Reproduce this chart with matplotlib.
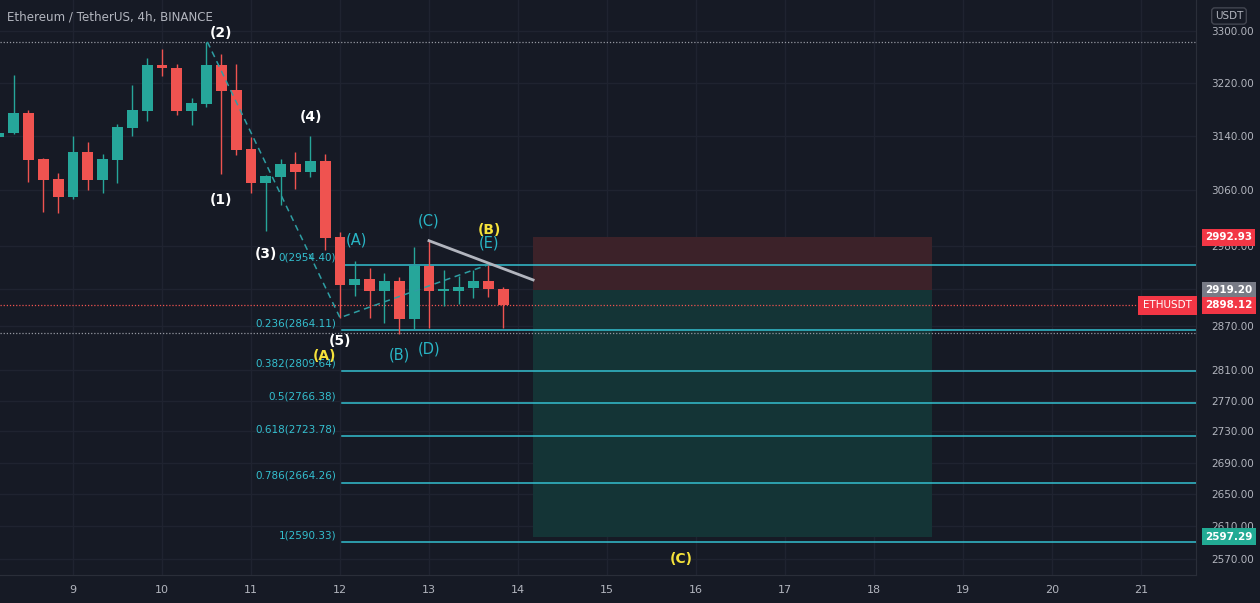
import numpy as np
import matplotlib
matplotlib.use('Agg')
import matplotlib.pyplot as plt
import matplotlib.transforms as mtransforms
from matplotlib.ticker import NullLocator

# ETH/USDT 4h candles, first one at day 8 04:00
opens = [3139, 3144, 3174, 3106, 3077, 3050, 3116, 3075, 3104, 3152,
         3177, 3247, 3243, 3177, 3188, 3247, 3209, 3121, 3071, 3080,
         3099, 3087, 3103, 2993, 2926, 2934, 2918, 2932, 2879, 2952,
         2918, 2918, 2922, 2932, 2920]
highs = [3146, 3232, 3179, 3107, 3085, 3140, 3131, 3113, 3158, 3217,
         3258, 3272, 3249, 3197, 3283, 3264, 3249, 3138, 3082, 3106,
         3116, 3140, 3113, 3000, 2960, 2950, 2943, 2937, 2979, 2988,
         2947, 2938, 2947, 2954, 2923]
lows = [3137, 3143, 3072, 3029, 3027, 3048, 3061, 3056, 3071, 3140,
        3162, 3230, 3171, 3156, 3183, 3084, 3112, 3056, 3002, 3039,
        3062, 3080, 2975, 2881, 2911, 2881, 2874, 2859, 2866, 2867,
        2897, 2900, 2908, 2909, 2867]
closes = [3144, 3174, 3104, 3075, 3050, 3116, 3075, 3106, 3153, 3179,
          3247, 3243, 3177, 3189, 3247, 3208, 3119, 3071, 3081, 3099,
          3087, 3103, 2992, 2926, 2934, 2918, 2932, 2879, 2952, 2918,
          2920, 2923, 2932, 2920, 2898.12]
first_candle = 8 + 4 / 24
candle_days = first_candle + np.arange(len(opens)) * 4 / 24

price_ticks = [3300, 3220, 3140, 3060, 2980, 2920, 2870, 2810, 2770, 2730,
               2690, 2650, 2610, 2570]
day_ticks = list(range(9, 22))

fib_ratios = [0, 0.236, 0.382, 0.5, 0.618, 0.786, 1]
fib_prices = [2954.40, 2864.11, 2809.64, 2766.38, 2723.78, 2664.26, 2590.33]
fib_start = 12.02

# elliott wave drawings
wave_line_days = [10.51, 12.0, 13.66]
wave_line_prices = [3283, 2881, 2954]
trend_days = [13.0, 14.17]
trend_prices = [2988, 2933]

white_labels = ['(1)', '(2)', '(3)', '(4)', '(5)']
white_days = [10.663, 10.663, 11.169, 11.674, 12.0]
white_prices = [3046, 3297, 2969, 3168, 2850]
teal_labels = ['(A)', '(B)', '(C)', '(D)', '(E)']
teal_days = [12.18, 12.663, 13.0, 13.0, 13.674]
teal_prices = [2989, 2831, 3016, 2838, 2985]
yellow_labels = ['(A)', '(B)', '(C)']
yellow_days = [11.831, 13.674, 15.831]
yellow_prices = [2829, 3003, 2570]

# short position
pos_start, pos_end = 14.17, 18.65
entry_price = 2919.20
stop_price = 2992.93
target_price = 2597.29
last_price = 2898.12
high_line = 3283
low_line = 2860

BG = '#161a25'
UP = '#26a69a'
DOWN = '#ef5350'
GRID = '#1f2330'
TXT = '#b2b5be'
FIB = '#34bfcf'

fig = plt.figure(figsize=(12.6, 6.03), dpi=100, facecolor=BG)
ax = fig.add_axes([0, 28 / 603, 1196 / 1260, 575 / 603])
ax.set_facecolor(BG)
ax.set_yscale('log')
ax.set_xlim(8.18, 21.618)
ax.set_ylim(2550.5, 3348.8)

ax.yaxis.set_minor_locator(NullLocator())
ax.set_yticks(price_ticks)
ax.set_yticklabels([f'{p:.2f}' for p in price_ticks])
ax.yaxis.tick_right()
ax.set_xticks(day_ticks)
ax.set_xticklabels([str(d) for d in day_ticks])
ax.tick_params(axis='y', length=0, pad=11, labelsize=7.5, labelcolor=TXT)
ax.tick_params(axis='x', length=0, pad=7, labelsize=8, labelcolor=TXT)
ax.grid(True, color=GRID, linewidth=1)
ax.set_axisbelow(True)
for s in ['top', 'left']:
    ax.spines[s].set_visible(False)
for s in ['right', 'bottom']:
    ax.spines[s].set_color('#2a2e39')

# position boxes
ax.fill_between([pos_start, pos_end], entry_price, stop_price, color='#3c2229', lw=0, zorder=1)
ax.fill_between([pos_start, pos_end], target_price, entry_price, color='#143436', lw=0, zorder=1)

# horizontal dotted lines
ax.axhline(high_line, color='#9598a1', ls=(0, (1, 1.5)), lw=0.9, zorder=2)
ax.axhline(last_price, color='#ef5350', ls=(0, (1, 1.5)), lw=0.9, zorder=2)
ax.axhline(low_line, color='#9598a1', ls=(0, (1, 1.5)), lw=0.9, zorder=2)

# fib levels
for r, p in zip(fib_ratios, fib_prices):
    ax.plot([fib_start, 21.618], [p, p], color=FIB, lw=1.1, zorder=3)
    ax.annotate(f'{r:g}({p:.2f})', xy=(fib_start, p), xytext=(-4, 1.5),
                textcoords='offset points', ha='right', va='bottom',
                color=FIB, fontsize=7.5, zorder=6)

# candles
colors = [UP if c >= o else DOWN for o, c in zip(opens, closes)]
ax.vlines(candle_days, lows, highs, colors=colors, lw=1, zorder=4)
bottoms = [min(o, c) for o, c in zip(opens, closes)]
heights = [max(abs(c - o), 0.8) for o, c in zip(opens, closes)]
ax.bar(candle_days, heights, bottom=bottoms, width=0.122, color=colors, lw=0, zorder=4)

# wave lines
ax.plot(wave_line_days, wave_line_prices, color='#2e9ea3', lw=1.1, ls=(0, (4, 3)), zorder=5)
ax.plot(trend_days, trend_prices, color=TXT, lw=2, zorder=5)

for t, d, p in zip(white_labels, white_days, white_prices):
    ax.text(d, p, t, color='white', fontsize=10, fontweight='bold', ha='center', va='center', zorder=7)
for t, d, p in zip(teal_labels, teal_days, teal_prices):
    ax.text(d, p, t, color='#29b6c6', fontsize=10.5, ha='center', va='center', zorder=7)
for t, d, p in zip(yellow_labels, yellow_days, yellow_prices):
    ax.text(d, p, t, color='#f5e23b', fontsize=10, fontweight='bold', ha='center', va='center', zorder=7)

# price labels on axis
trans = mtransforms.blended_transform_factory(ax.transAxes, ax.transData)
axis_tags = [(stop_price, '#f23645'), (entry_price, '#787b86'),
             (last_price, '#f23645'), (target_price, '#22ab94')]
for p, c in axis_tags:
    ax.text(1.0 + 9 / 1196, p, f'{p:.2f}', transform=trans, ha='left', va='center',
            color='white', fontsize=7.5, fontweight='bold', clip_on=False, zorder=10,
            bbox=dict(boxstyle='square,pad=0.32', fc=c, ec='none'))
ax.text(1.0 - 4 / 1196, last_price, 'ETHUSDT', transform=trans, ha='right', va='center',
        color='white', fontsize=7.5, clip_on=False, zorder=10,
        bbox=dict(boxstyle='square,pad=0.45', fc='#f23645', ec='none'))

fig.text(1229 / 1260, 1 - 16 / 603, 'USDT', ha='center', va='center', color=TXT, fontsize=7.5,
         bbox=dict(boxstyle='round,pad=0.3', fc=BG, ec='#434651'))
fig.text(7 / 1260, 1 - 17 / 603, 'Ethereum / TetherUS, 4h, BINANCE', ha='left', va='center',
         color=TXT, fontsize=8.6)

fig.savefig('out.png', dpi=100, facecolor=BG)
